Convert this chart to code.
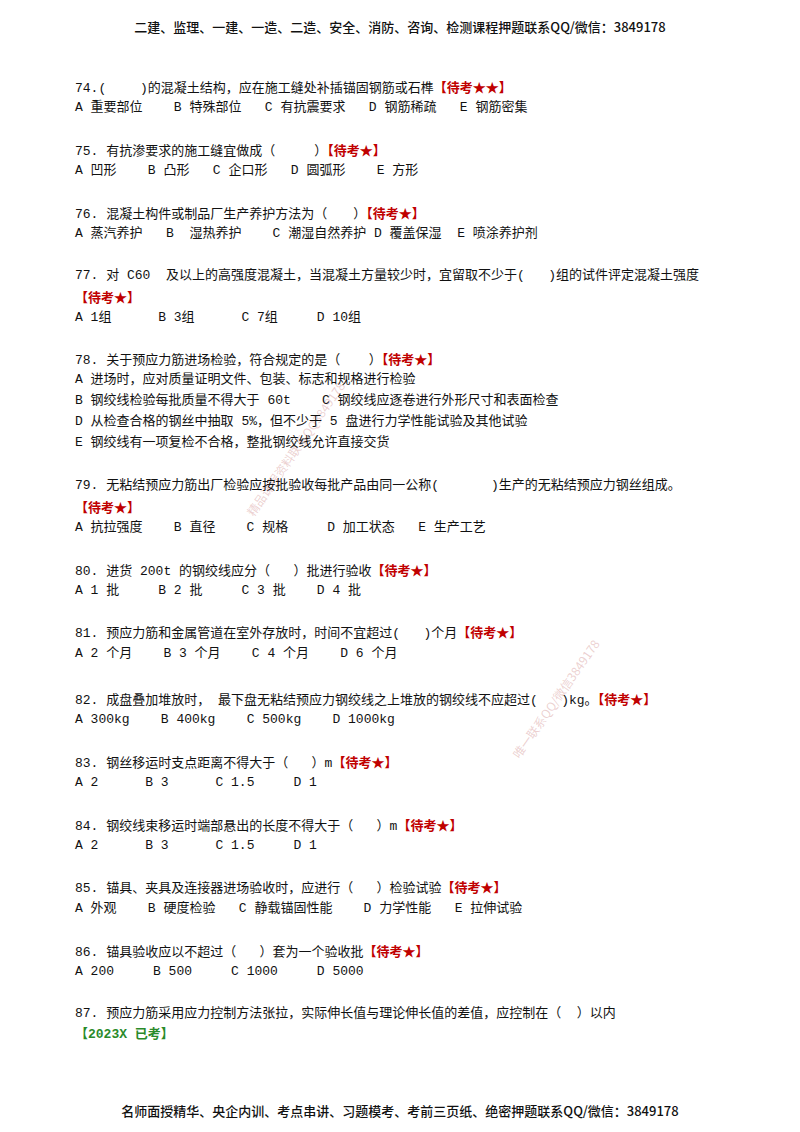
<!DOCTYPE html>
<html><head><meta charset="utf-8">
<script src="https://cdn.jsdelivr.net/npm/chart.js@4"></script>
<style>
body{margin:0;width:800px;height:1132px;background:#fff;font-family:"Noto Sans CJK SC","Noto Sans",sans-serif;color:#111;position:relative;overflow:hidden}
.l{position:absolute;left:75px;font-size:13px;white-space:pre;line-height:16px;font-family:"Liberation Mono","Noto Sans CJK SC",monospace}
.r{color:#c00000;font-weight:bold;font-family:"Noto Sans CJK SC"}
.g{color:#2a8a2a;font-weight:bold}
.h{position:absolute;left:0;width:800px;text-align:center;font-size:13px;font-weight:500}
.w{position:absolute;color:rgba(200,120,120,0.35);font-size:12px;white-space:nowrap}
</style></head><body>
<div class="h" style="top:17px">二建、监理、一建、一造、二造、安全、消防、咨询、检测课程押题联系QQ/微信：3849178</div>
<div class="h" style="top:1101px">名师面授精华、央企内训、考点串讲、习题模考、考前三页纸、绝密押题联系QQ/微信：3849178</div>
<div class="w" style="left:215px;top:440px;transform:rotate(-55deg)">精品课程资料联系QQ3849178</div>
<div class="w" style="left:485px;top:690px;transform:rotate(-55deg)">唯一联系QQ/微信3849178</div>
<div id="c"></div>
<script>
const lines=[
[79,'74.(　　 )的混凝土结构，应在施工缝处补插锚固钢筋或石榫<span class="r">【待考★★】</span>'],
[100,'A 重要部位    B 特殊部位   C 有抗震要求   D 钢筋稀疏   E 钢筋密集'],
[142,'75. 有抗渗要求的施工缝宜做成（　　　）<span class="r">【待考★】</span>'],
[163,'A 凹形    B 凸形   C 企口形   D 圆弧形    E 方形'],
[205,'76. 混凝土构件或制品厂生产养护方法为（　　）<span class="r">【待考★】</span>'],
[226,'A 蒸汽养护   B  湿热养护    C 潮湿自然养护 D 覆盖保湿  E 喷涂养护剂'],
[268,'77. 对 C60  及以上的高强度混凝土，当混凝土方量较少时，宜留取不少于(   )组的试件评定混凝土强度'],
[289,'<span class="r">【待考★】</span>'],
[310,'A 1组      B 3组      C 7组     D 10组'],
[351,'78. 关于预应力筋进场检验，符合规定的是（　  ）<span class="r">【待考★】</span>'],
[372,'A 进场时，应对质量证明文件、包装、标志和规格进行检验'],
[393,'B 钢绞线检验每批质量不得大于 60t    C 钢绞线应逐卷进行外形尺寸和表面检查'],
[414,'D 从检查合格的钢丝中抽取 5%，但不少于 5 盘进行力学性能试验及其他试验'],
[435,'E 钢绞线有一项复检不合格，整批钢绞线允许直接交货'],
[478,'79. 无粘结预应力筋出厂检验应按批验收每批产品由同一公称(　　　　)生产的无粘结预应力钢丝组成。'],
[499,'<span class="r">【待考★】</span>'],
[520,'A 抗拉强度    B 直径    C 规格     D 加工状态   E 生产工艺'],
[562,'80. 进货 200t 的钢绞线应分（   ）批进行验收<span class="r">【待考★】</span>'],
[583,'A 1 批     B 2 批     C 3 批    D 4 批'],
[624,'81. 预应力筋和金属管道在室外存放时，时间不宜超过(   )个月<span class="r">【待考★】</span>'],
[646,'A 2 个月    B 3 个月    C 4 个月    D 6 个月'],
[691,'82. 成盘叠加堆放时， 最下盘无粘结预应力钢绞线之上堆放的钢绞线不应超过(   )kg。<span class="r">【待考★】</span>'],
[712,'A 300kg    B 400kg    C 500kg    D 1000kg'],
[754,'83. 钢丝移运时支点距离不得大于（   ）m<span class="r">【待考★】</span>'],
[775,'A 2      B 3      C 1.5     D 1'],
[817,'84. 钢绞线束移运时端部悬出的长度不得大于（   ）m<span class="r">【待考★】</span>'],
[838,'A 2      B 3      C 1.5     D 1'],
[879,'85. 锚具、夹具及连接器进场验收时，应进行（   ）检验试验<span class="r">【待考★】</span>'],
[901,'A 外观    B 硬度检验   C 静载锚固性能    D 力学性能   E 拉伸试验'],
[943,'86. 锚具验收应以不超过（   ）套为一个验收批<span class="r">【待考★】</span>'],
[964,'A 200     B 500     C 1000     D 5000'],
[1006,'87. 预应力筋采用应力控制方法张拉，实际伸长值与理论伸长值的差值，应控制在（  ）以内'],
[1027,'<span class="g">【2023X 已考】</span>']
];
document.getElementById('c').innerHTML=lines.map(([y,t])=>`<div class="l" style="top:${y}px">${t}</div>`).join('');
</script>
</body></html>
